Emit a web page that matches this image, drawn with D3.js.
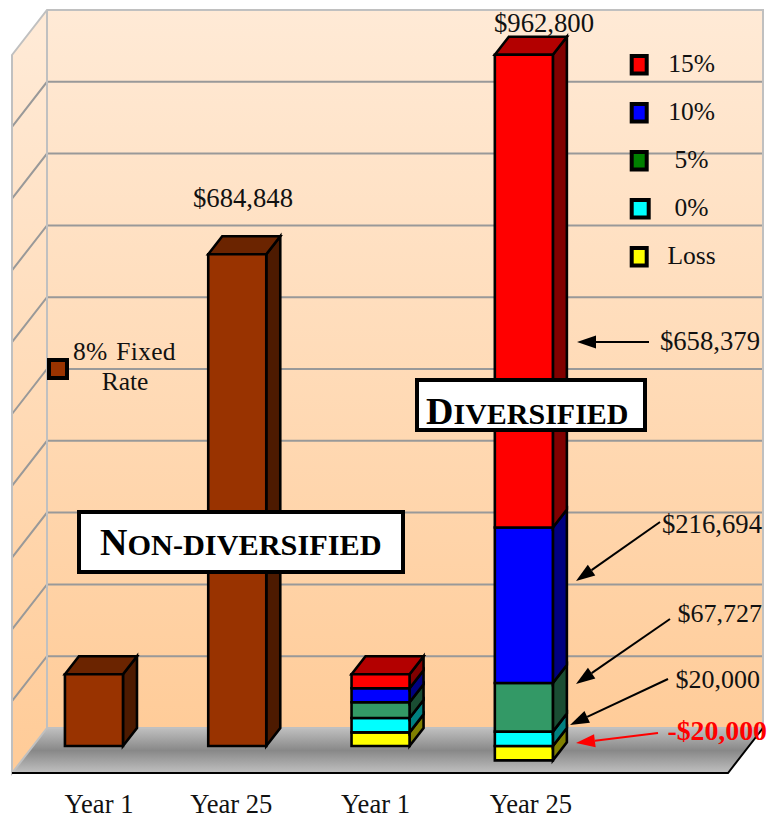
<!DOCTYPE html>
<html>
<head>
<meta charset="utf-8">
<style>
  html, body { margin: 0; padding: 0; background: #fff; }
  svg { display: block; }
  text { font-family: "Liberation Serif", serif; fill: #111; }
</style>
<script src="https://cdn.jsdelivr.net/npm/d3@7"></script>
</head>
<body>
<svg id="chart" width="767" height="817"></svg>
<script>
var categories = ['Year 1', 'Year 25', 'Year 1', 'Year 25'];
var fixedRateValues = [100000, 684848];
var bands = ['Loss', '0%', '5%', '10%', '15%'];
var year1Values = [19000, 20000, 22000, 19500, 19500];
var year25Values = [-20000, 20000, 67727, 216694, 658379];
var legendLabels = ['15%', '10%', '5%', '0%', 'Loss'];
var legendColors = ['#ff0000', '#0000ff', '#008000', '#00ffff', '#ffff00'];
var bandColors = ['#ffff00', '#00ffff', '#339966', '#0000ff', '#ff0000'];
var barTotals = ['$684,848', '$962,800'];
var calloutLabels = ['$658,379', '$216,694', '$67,727', '$20,000', '-$20,000'];

var svg = d3.select('#chart');
var defs = svg.append('defs');

// depth of the walls and of the bars, the bars sit on the front of the floor
var wallDx = 35, wallDy = 45;
var barDx = 14, barDy = 18;
var wallLeft = 47, wallRight = 763, wallTop = 10, wallBottom = 728;

var x = d3.scaleBand()
  .domain(d3.range(categories.length))
  .range([22.3, 595.5])
  .paddingInner(0.595)
  .paddingOuter(0.2975);

var y = d3.scaleLinear()
  .domain([0, 1000000])
  .range([wallBottom + barDy, wallTop + barDy]);

function gradient(id, stops, y1, y2) {
  var g = defs.append('linearGradient')
    .attr('id', id)
    .attr('gradientUnits', 'userSpaceOnUse')
    .attr('x1', 0).attr('x2', 0)
    .attr('y1', y1).attr('y2', y2);
  stops.forEach(function (s) {
    g.append('stop').attr('offset', s[0]).attr('stop-color', s[1]);
  });
}

gradient('wallFill', [[0, '#ffead6'], [1, '#ffcc99']], wallTop, wallBottom);
gradient('sideFill', [[0, '#ffead6'], [1, '#ffcc99']], wallTop + wallDy / 2, wallBottom + wallDy / 2);
gradient('floorFill', [[0, '#c0c0c0'], [0.5, '#888888'], [1, '#c0c0c0']], wallBottom, wallBottom + wallDy);

function poly(points) {
  return 'M' + points.map(function (p) { return p.join(' '); }).join('L') + 'Z';
}

function drawWalls() {
  var frontY = wallBottom + wallDy;

  svg.append('path')
    .attr('d', poly([[wallLeft, wallTop], [wallRight, wallTop], [wallRight, wallBottom], [wallLeft, wallBottom]]))
    .attr('fill', 'url(#wallFill)');

  svg.append('path')
    .attr('d', poly([[wallLeft, wallTop], [wallLeft, wallBottom], [wallLeft - wallDx, frontY], [wallLeft - wallDx, wallTop + wallDy]]))
    .attr('fill', 'url(#sideFill)');

  // value gridlines run along the back wall and down the side wall
  var ticks = y.ticks(10).filter(function (t) { return t > 0 && t < 1000000; });
  svg.append('g').selectAll('path')
    .data(ticks)
    .enter()
    .append('path')
    .attr('d', function (t) {
      var gy = y(t) - barDy;
      return 'M' + wallRight + ' ' + gy + 'L' + wallLeft + ' ' + gy + 'L' + (wallLeft - wallDx) + ' ' + (gy + wallDy);
    })
    .attr('fill', 'none')
    .attr('stroke', '#999')
    .attr('stroke-width', 2);

  svg.append('path')
    .attr('d', poly([[wallLeft, wallBottom], [wallRight, wallBottom], [wallRight - wallDx, frontY], [wallLeft - wallDx, frontY]]))
    .attr('fill', 'url(#floorFill)');

  // wall outline
  svg.append('path')
    .attr('d', 'M' + wallRight + ' ' + wallBottom + 'L' + wallRight + ' ' + wallTop + 'L' + wallLeft + ' ' + wallTop +
      'L' + (wallLeft - wallDx) + ' ' + (wallTop + wallDy) + 'L' + (wallLeft - wallDx) + ' ' + frontY +
      'L' + wallLeft + ' ' + wallBottom + 'Z' +
      'M' + wallLeft + ' ' + wallTop + 'L' + wallLeft + ' ' + wallBottom)
    .attr('fill', 'none')
    .attr('stroke', '#c0c0c0')
    .attr('stroke-width', 2);

  svg.append('path')
    .attr('d', 'M' + (wallLeft - wallDx) + ' ' + frontY + 'L' + (wallRight - wallDx) + ' ' + frontY + 'L' + wallRight + ' ' + wallBottom)
    .attr('fill', 'none')
    .attr('stroke', '#000')
    .attr('stroke-width', 2);
}

// one block of a 3d bar, the top face is only drawn on the last one
function drawBlock(i, v0, v1, color, withTop) {
  var x0 = x(i), x1 = x0 + x.bandwidth();
  var y0 = y(v0), y1 = y(v1);
  var g = svg.append('g')
    .attr('stroke', '#000')
    .attr('stroke-width', 2.6)
    .attr('stroke-linejoin', 'miter');
  var c = d3.rgb(color);

  g.append('path')
    .attr('d', poly([[x1, y0], [x1 + barDx, y0 - barDy], [x1 + barDx, y1 - barDy], [x1, y1]]))
    .attr('fill', d3.rgb(c.r * 0.5, c.g * 0.5, c.b * 0.5));

  if (withTop) {
    g.append('path')
      .attr('d', poly([[x0, y1], [x0 + barDx, y1 - barDy], [x1 + barDx, y1 - barDy], [x1, y1]]))
      .attr('fill', d3.rgb(c.r * 0.7, c.g * 0.7, c.b * 0.7));
  }

  g.append('path')
    .attr('d', poly([[x0, y0], [x1, y0], [x1, y1], [x0, y1]]))
    .attr('fill', color);
}

function drawBars() {
  fixedRateValues.forEach(function (v, i) {
    drawBlock(i, 0, v, '#993300', true);
  });

  var rows = [year1Values, year25Values].map(function (vals, n) {
    var row = { col: n + 2 };
    bands.forEach(function (b, k) { row[b] = vals[k]; });
    return row;
  });

  var series = d3.stack()
    .keys(bands)
    .offset(d3.stackOffsetDiverging)(rows);

  rows.forEach(function (row, r) {
    // the loss block hangs below zero, so it is stacked first of all
    series.forEach(function (s, k) {
      drawBlock(row.col, s[r][0], s[r][1], bandColors[k], k === series.length - 1);
    });
  });
}

function drawAxis() {
  var nudge = [5, -6, -5, 7];
  var axis = d3.axisBottom(x)
    .tickSize(0)
    .tickFormat(function (i) { return categories[i]; });

  var g = svg.append('g')
    .attr('transform', 'translate(0,790)')
    .call(axis);

  g.select('.domain').remove();
  g.selectAll('text')
    .attr('dx', function (i) { return nudge[i]; })
    .attr('y', 0)
    .attr('dy', 23)
    .style('font-family', '"Liberation Serif", serif')
    .style('font-size', '26.6px')
    .attr('fill', '#111');
}

function label(txt, px, py, anchor, size) {
  return svg.append('text')
    .attr('x', px)
    .attr('y', py)
    .attr('text-anchor', anchor || 'start')
    .style('font-size', (size || 26.7) + 'px')
    .text(txt);
}

function drawArrow(x1, y1, x2, y2, color) {
  var a = Math.atan2(y2 - y1, x2 - x1);
  var len = 19, half = 6.5;
  var bx = x2 - len * Math.cos(a), by = y2 - len * Math.sin(a);

  svg.append('line')
    .attr('x1', x1).attr('y1', y1)
    .attr('x2', bx).attr('y2', by)
    .attr('stroke', color)
    .attr('stroke-width', 2);

  svg.append('path')
    .attr('d', poly([
      [x2, y2],
      [bx - half * Math.sin(a), by + half * Math.cos(a)],
      [bx + half * Math.sin(a), by - half * Math.cos(a)]
    ]))
    .attr('fill', color);
}

function drawCallouts() {
  drawArrow(649, 342, 577, 342, '#000');
  drawArrow(660, 522, 576, 581, '#000');
  drawArrow(670, 619, 576, 684, '#000');
  drawArrow(668, 679, 570, 725, '#000');
  drawArrow(658, 733, 576, 743, '#f00');

  label(barTotals[0], 243, 207, 'middle');
  label(barTotals[1], 544, 32, 'middle');

  label(calloutLabels[0], 760, 350, 'end');
  label(calloutLabels[1], 762, 533, 'end');
  label(calloutLabels[2], 762, 622, 'end', 26);
  label(calloutLabels[3], 760, 688, 'end', 26);
  label(calloutLabels[4], 767, 740, 'end', 27.8)
    .style('font-weight', 'bold')
    .style('fill', '#f00');
}

function swatch(px, py, w, h, color) {
  svg.append('rect')
    .attr('x', px).attr('y', py)
    .attr('width', w).attr('height', h)
    .attr('fill', color)
    .attr('stroke', '#000')
    .attr('stroke-width', 4);
}

function drawLegend() {
  legendLabels.forEach(function (name, i) {
    var cy = 65 + i * 48;
    swatch(631.7, cy - 9, legendLabels[i] === '0%' ? 17 : 15, 17.5, legendColors[i]);
    label(name, 691.5, cy + 7, 'middle', 25.5);
  });

  swatch(49, 360, 18, 18, '#993300');
  label('8% Fixed', 73, 360, 'start', 25.5).style('word-spacing', '2px').style('letter-spacing', '0.3px');
  label('Rate', 125, 390, 'middle', 25.5);
}

function drawBox(bx, by, bw, bh, tx, ty, big, small, bigSize, smallSize) {
  svg.append('rect')
    .attr('x', bx).attr('y', by)
    .attr('width', bw).attr('height', bh)
    .attr('fill', '#fff')
    .attr('stroke', '#000')
    .attr('stroke-width', 4);

  var t = svg.append('text')
    .attr('x', tx).attr('y', ty)
    .style('font-weight', 'bold')
    .style('fill', '#000');
  t.append('tspan').style('font-size', bigSize + 'px').text(big);
  t.append('tspan').style('font-size', smallSize + 'px').text(small);
}

drawWalls();
drawBars();
drawAxis();
drawCallouts();
drawLegend();
drawBox(79, 512, 324, 60, 100, 555, 'N', 'ON-DIVERSIFIED', 38, 30.3);
drawBox(417, 380, 228, 50, 426, 424, 'D', 'IVERSIFIED', 38, 30);
</script>
</body>
</html>
